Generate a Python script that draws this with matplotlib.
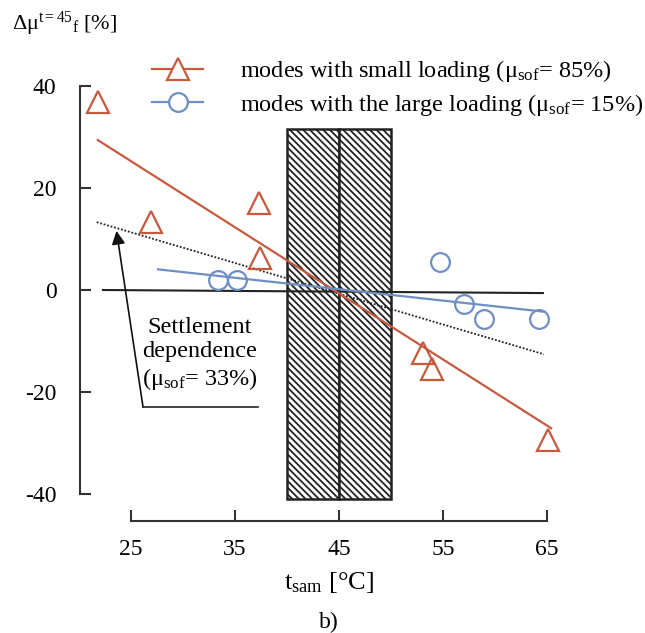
import matplotlib
matplotlib.use("Agg")
import matplotlib.pyplot as plt
from matplotlib.patches import Rectangle

plt.rcParams['font.family'] = ['Liberation Serif', 'DejaVu Serif']
plt.rcParams['mathtext.fontset'] = 'custom'
plt.rcParams['mathtext.rm'] = 'Liberation Serif'
plt.rcParams['mathtext.it'] = 'Liberation Serif:italic'
plt.rcParams['axes.unicode_minus'] = False
plt.rcParams['hatch.linewidth'] = 1.3

# data
small_t = [21.8, 26.9, 37.3, 37.4, 53.1, 53.9, 65.1]
small_mu = [36.9, 13.3, 17.1, 6.2, -12.4, -15.4, -29.4]
large_t = [33.4, 35.2, 54.7, 57.0, 58.9, 64.2]
large_mu = [2.0, 2.0, 5.5, -2.7, -5.6, -5.6]

# trend lines (end points)
small_fit_t = [21.8, 65.4]
small_fit_mu = [29.4, -27.1]
large_fit_t = [27.6, 64.7]
large_fit_mu = [4.05, -4.25]
settle_t = [21.7, 64.7]
settle_mu = [13.3, -12.6]
zero_t = [22.3, 64.6]
zero_mu = [0.0, -0.6]

zone_t = [40.0, 45.0, 50.0]
zone_mu = [-41.0, 31.5]

xticks = [25, 35, 45, 55, 65]
yticks = [-40, -20, 0, 20, 40]

red = '#c65a3e'
blue = '#6f8fc2'
axcol = '#333333'

fig = plt.figure(figsize=(6.45, 6.33), dpi=100)
ax = fig.add_axes([0, 0, 1, 1])
ax.set_xlim(12.40, 74.42)
ax.set_ylim(-67.25, 56.86)

# hatched zone
for left, right in [(zone_t[0], zone_t[1]), (zone_t[1], zone_t[2])]:
    ax.add_patch(Rectangle((left, zone_mu[0]), right - left, zone_mu[1] - zone_mu[0],
                           facecolor='white', edgecolor='#222222', hatch='\\' * 5,
                           linewidth=1.8, zorder=1))

ax.plot(zero_t, zero_mu, color='#222222', lw=1.5, zorder=2)
ax.plot(settle_t, settle_mu, color='#222222', lw=1.3, ls=(0, (1, 1)), zorder=2)
ax.plot(small_fit_t, small_fit_mu, color=red, lw=1.6, zorder=3)
ax.plot(large_fit_t, large_fit_mu, color=blue, lw=1.6, zorder=3)

ax.plot(small_t, small_mu, ls='none', marker='^', ms=16, mfc='none', mec=red, mew=1.6, zorder=4)
ax.plot(large_t, large_mu, ls='none', marker='o', ms=13.5, mfc='none', mec=blue, mew=1.6, zorder=4)

# legend
h1, = ax.plot([], [], color=red, lw=1.6, marker='^', ms=16, mfc='white', mec=red, mew=1.6)
h2, = ax.plot([], [], color=blue, lw=1.6, marker='o', ms=13.5, mfc='white', mec=blue, mew=1.6)
ax.legend([h1, h2],
          ['modes with small loading (μ$_{\\rm sof}$= 85%)',
           'modes with the large loading (μ$_{\\rm sof}$= 15%)'],
          loc='upper left', bbox_to_anchor=(0.236, 0.908), frameon=False,
          fontsize=17.5, handlelength=2.1, handletextpad=1.5, labelspacing=0.3,
          borderpad=0, borderaxespad=0)

# settlement annotation
ax.text(31.6, -12.6, 'Settlement\ndependence\n(μ$_{\\rm sof}$= 33%)', ha='center', va='center',
        fontsize=17.5, linespacing=1.2)
ax.plot([26.15, 37.2], [-22.9, -22.9], color='#222222', lw=1.2)
ax.annotate('', xy=(23.6, 11.6), xytext=(26.15, -22.9),
            arrowprops=dict(arrowstyle='-|>', color='#111111', lw=1.2,
                            mutation_scale=20, shrinkA=0, shrinkB=0))

# axes
for s in ['top', 'right']:
    ax.spines[s].set_visible(False)
ax.spines['left'].set_position(('data', 20.1))
ax.spines['left'].set_bounds(-40, 40)
ax.spines['bottom'].set_position(('data', -45.3))
ax.spines['bottom'].set_bounds(25, 65)
for s in ['left', 'bottom']:
    ax.spines[s].set_color(axcol)
    ax.spines[s].set_linewidth(1.5)
ax.set_xticks(xticks)
ax.set_yticks(yticks)
ax.tick_params(axis='both', direction='in', length=8, width=1.5, color=axcol,
               labelsize=17)
ax.tick_params(axis='y', pad=17)
ax.tick_params(axis='x', pad=13)

fig.text(0.018, 0.962, 'Δμ$^{\\rm t=45}$$_{\\rm f}$ [%]', fontsize=16, va='center')
fig.text(0.51, 0.079, 't$_{\\rm sam}$ [°C]', fontsize=19, ha='center', va='center')
fig.text(0.51, 0.017, 'b)', fontsize=17, ha='center', va='center')

fig.savefig('out.png', dpi=100)
